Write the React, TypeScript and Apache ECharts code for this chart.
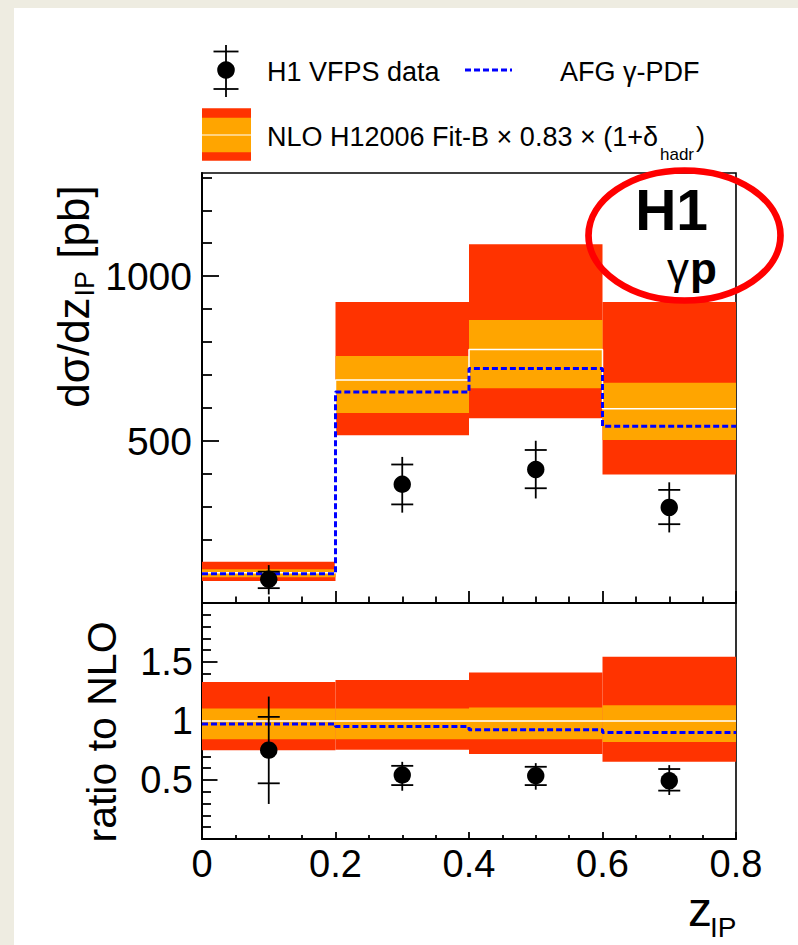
import React, { useEffect, useRef } from 'react';
import * as echarts from 'echarts';

// ---- data ----
const binEdges = [0, 0.2, 0.4, 0.6, 0.8];
const binCenters = [0.1, 0.3, 0.5, 0.7];

// upper panel: dσ/dz_IP [pb]
const dataXsec = [81, 369, 414, 299];
const dataStatUp = [104, 429, 473, 352];
const dataStatDown = [54, 308, 357, 248];
const dataTotUp = [124, 452, 501, 375];
const dataTotDown = [35, 283, 326, 223];
const nloCentral = [101, 685, 778, 598];
const nloScaleLow = [87, 585, 660, 503];
const nloScaleHigh = [111, 758, 867, 677];
const nloTotLow = [76, 518, 569, 399];
const nloTotHigh = [134, 922, 1097, 922];
const afgXsec = [98, 649, 720, 545];

// lower panel: ratio to NLO
const ratioData = [0.753, 0.542, 0.536, 0.494];
const ratioStatUp = [1.035, 0.62, 0.612, 0.593];
const ratioStatDown = [0.472, 0.457, 0.457, 0.41];
const ratioTotUp = [1.207, 0.654, 0.643, 0.626];
const ratioTotDown = [0.297, 0.409, 0.418, 0.373];
const ratioScaleLow = [0.846, 0.846, 0.846, 0.823];
const ratioScaleHigh = [1.106, 1.106, 1.114, 1.134];
const ratioTotLow = [0.753, 0.756, 0.72, 0.654];
const ratioTotHigh = [1.33, 1.347, 1.41, 1.545];
const ratioAfg = [0.975, 0.953, 0.925, 0.903];
const ratioCentral = [1, 1, 1, 1];

// axes
const upperMin = 9;
const upperMax = 1313;
const upperMajorTicks = [500, 1000];
const upperMinorTicks = [100, 200, 300, 400, 600, 700, 800, 900, 1100, 1200, 1300];
const ratioMin = 0;
const ratioMax = 2;
const ratioLabels = [0.5, 1, 1.5];

const RED = '#ff3300';
const ORANGE = '#ffa500';
const BLUE = '#0000ff';
const FONT = "'Liberation Sans', Arial, Helvetica, sans-serif";

function stepPoints(vals: number[]) {
  const pts: number[][] = [];
  vals.forEach((v, i) => {
    pts.push([binEdges[i], v]);
    pts.push([binEdges[i + 1], v]);
  });
  return pts;
}

function bandSeries(xi: number, yi: number, lo: number[], hi: number[], color: string, z: number) {
  return {
    type: 'custom',
    xAxisIndex: xi,
    yAxisIndex: yi,
    z,
    silent: true,
    renderItem: (_p: any, api: any) => {
      const p0 = api.coord([api.value(0), api.value(3)]);
      const p1 = api.coord([api.value(1), api.value(2)]);
      return {
        type: 'rect',
        shape: { x: p0[0], y: p0[1], width: p1[0] - p0[0], height: p1[1] - p0[1] },
        style: { fill: color },
      };
    },
    encode: { x: [0, 1], y: [2, 3] },
    data: lo.map((l, i) => [binEdges[i], binEdges[i + 1], l, hi[i]]),
  };
}

function stepSeries(xi: number, yi: number, vals: number[], color: string, width: number, dashed: boolean, z: number) {
  return {
    type: 'line',
    xAxisIndex: xi,
    yAxisIndex: yi,
    z,
    silent: true,
    symbol: 'none',
    showSymbol: false,
    lineStyle: { color, width, type: dashed ? [6, 3] : 'solid' },
    data: stepPoints(vals),
  };
}

function pointSeries(xi: number, yi: number, c: number[], su: number[], sd: number[], tu: number[], td: number[]) {
  return {
    type: 'custom',
    xAxisIndex: xi,
    yAxisIndex: yi,
    z: 10,
    silent: true,
    renderItem: (_p: any, api: any) => {
      const x = api.value(0);
      const pc = api.coord([x, api.value(1)]);
      const psu = api.coord([x, api.value(2)]);
      const psd = api.coord([x, api.value(3)]);
      const ptu = api.coord([x, api.value(4)]);
      const ptd = api.coord([x, api.value(5)]);
      const hw = 11;
      const st = { stroke: '#000', lineWidth: 1.8 };
      return {
        type: 'group',
        children: [
          { type: 'line', shape: { x1: pc[0], y1: ptu[1], x2: pc[0], y2: ptd[1] }, style: st },
          { type: 'line', shape: { x1: pc[0] - hw, y1: psu[1], x2: pc[0] + hw, y2: psu[1] }, style: st },
          { type: 'line', shape: { x1: pc[0] - hw, y1: psd[1], x2: pc[0] + hw, y2: psd[1] }, style: st },
          { type: 'circle', shape: { cx: pc[0], cy: pc[1], r: 8.7 }, style: { fill: '#000' } },
        ],
      };
    },
    encode: { x: 0, y: [1, 2, 3, 4, 5] },
    data: c.map((v, i) => [binCenters[i], v, su[i], sd[i], tu[i], td[i]]),
  };
}

function txt(text: string, x: number, y: number, size: number, opts: any = {}) {
  return {
    type: 'text',
    x,
    y,
    z: 100,
    rotation: opts.rotation || 0,
    style: {
      text,
      fontSize: size,
      fontFamily: FONT,
      fontWeight: opts.bold ? 'bold' : 'normal',
      fill: '#000',
      align: opts.align || 'left',
      textAlign: opts.align || 'left',
      verticalAlign: 'middle',
      textVerticalAlign: 'middle',
    },
  };
}

export default function App() {
  const ref = useRef<HTMLDivElement>(null);

  useEffect(() => {
    document.body.style.margin = '0';
    if (!ref.current) return;
    const chart = echarts.init(ref.current, undefined, { renderer: 'svg' });

    const cv = document.createElement('canvas').getContext('2d')!;
    const tw = (t: string, size: number, bold = false) => {
      cv.font = `${bold ? 'bold ' : ''}${size}px ${FONT}`;
      return cv.measureText(t).width;
    };

    // y title (upper)
    const yt1 = 'dσ/dz';
    const ytSub = 'IP';
    const yt3 = ' [pb]';
    const ytSize = 44;
    const ytSubSize = 27;
    const w1 = tw(yt1, ytSize);
    const w2 = tw(ytSub, ytSubSize);
    const w3 = tw(yt3, ytSize);
    const ytTotal = w1 + w2 + w3;

    // legend row 2
    const lg2 = 'NLO H12006 Fit-B × 0.83 × (1+δ';
    const lg2w = tw(lg2, 27);
    const hadrW = tw('hadr', 17);

    const pW = tw('p', 44, true);
    const zW = tw('z', 48);

    const lineSt = { stroke: '#000', lineWidth: 1.8 };

    const graphics: any[] = [
      // legend row 1: data marker
      {
        type: 'group',
        x: 226,
        y: 70,
        z: 100,
        children: [
          { type: 'line', shape: { x1: 0, y1: -25, x2: 0, y2: 27 }, style: lineSt },
          { type: 'line', shape: { x1: -12.5, y1: -18.5, x2: 12.5, y2: -18.5 }, style: lineSt },
          { type: 'line', shape: { x1: -12.5, y1: 19, x2: 12.5, y2: 19 }, style: lineSt },
          { type: 'circle', shape: { cx: 0, cy: 0, r: 8.8 }, style: { fill: '#000' } },
        ],
      },
      txt('H1 VFPS data', 267, 72, 27),
      {
        type: 'line',
        z: 100,
        shape: { x1: 465, y1: 70, x2: 512, y2: 70 },
        style: { stroke: BLUE, lineWidth: 3, lineDash: [6, 3] },
      },
      txt('AFG γ-PDF', 560, 72, 27),
      // legend row 2: band box
      { type: 'rect', z: 100, shape: { x: 202, y: 108.3, width: 49, height: 52.4 }, style: { fill: RED } },
      { type: 'rect', z: 101, shape: { x: 202, y: 117.7, width: 49, height: 34.5 }, style: { fill: ORANGE } },
      { type: 'line', z: 102, shape: { x1: 202, y1: 135, x2: 251, y2: 135 }, style: { stroke: '#fff', lineWidth: 1.2 } },
      txt(lg2, 267, 137, 27),
      txt('hadr', 267 + lg2w + 2, 154, 17),
      txt(')', 267 + lg2w + hadrW + 4, 137, 27),
      // H1 gamma p label
      txt('H1', 708, 210, 57, { bold: true, align: 'right' }),
      txt('p', 717, 268, 44, { bold: true, align: 'right' }),
      txt('γ', 717 - pW - 1, 268, 44, { align: 'right' }),
      // red ellipse
      {
        type: 'ellipse',
        z: 110,
        shape: { cx: 684.5, cy: 235.5, rx: 96, ry: 65 },
        style: { fill: 'none', stroke: '#ff0000', lineWidth: 6.7 },
      },
      // y title upper (rotated)
      {
        type: 'group',
        x: 73,
        y: 297 + ytTotal / 2,
        rotation: Math.PI / 2,
        z: 100,
        children: [
          txt(yt1, 0, 0, ytSize),
          txt(ytSub, w1 + 1, 12, ytSubSize),
          txt(yt3, w1 + w2 + 1, 0, ytSize),
        ],
      },
      // y title lower
      txt('ratio to NLO', 102, 732, 41, { align: 'center', rotation: Math.PI / 2 }),
      // x title
      txt('z', 688, 909, 48),
      txt('IP', 688 + zW - 2, 927, 28),
    ];

    const axisLine = { show: true, onZero: false, lineStyle: { color: '#000', width: 2 } };
    const tickStyle = { color: '#000', width: 1.8 };

    const option: any = {
      animation: false,
      grid: [
        { left: 202, top: 173, width: 534, height: 430, show: true, borderColor: '#000', borderWidth: 1.6, backgroundColor: 'transparent' },
        { left: 202, top: 603, width: 534, height: 236, show: true, borderColor: '#000', borderWidth: 1.6, backgroundColor: 'transparent' },
      ],
      xAxis: [
        {
          type: 'value', gridIndex: 0, min: 0, max: 0.8, interval: 0.2, position: 'bottom',
          axisLine, axisLabel: { show: false },
          axisTick: { show: true, inside: true, length: 12, lineStyle: tickStyle },
          minorTick: { show: true, splitNumber: 4, length: 6.5, lineStyle: tickStyle },
          splitLine: { show: false }, minorSplitLine: { show: false },
        },
        {
          type: 'value', gridIndex: 1, min: 0, max: 0.8, interval: 0.2, position: 'bottom',
          axisLine,
          axisLabel: { show: true, fontSize: 38, fontFamily: FONT, color: '#000', margin: 6, showMinLabel: true, showMaxLabel: true, formatter: (v: number) => String(v) },
          axisTick: { show: true, inside: true, length: 7, lineStyle: tickStyle },
          minorTick: { show: true, splitNumber: 4, length: 4, lineStyle: tickStyle },
          splitLine: { show: false }, minorSplitLine: { show: false },
        },
      ],
      yAxis: [
        {
          type: 'value', gridIndex: 0, min: upperMin, max: upperMax, position: 'left',
          axisLine,
          axisLabel: { show: true, customValues: upperMajorTicks, fontSize: 39, fontFamily: FONT, color: '#000', margin: 10, formatter: (v: number) => String(v) },
          axisTick: { show: true, inside: true, length: 17, customValues: upperMajorTicks, lineStyle: tickStyle },
          splitLine: { show: false },
        },
        {
          type: 'value', gridIndex: 0, min: upperMin, max: upperMax, position: 'left',
          axisLine: { show: false },
          axisLabel: { show: false },
          axisTick: { show: true, inside: true, length: 10, customValues: upperMinorTicks, lineStyle: tickStyle },
          splitLine: { show: false },
        },
        {
          type: 'value', gridIndex: 1, min: ratioMin, max: ratioMax, interval: 0.5, position: 'left',
          axisLine,
          axisLabel: { show: true, customValues: ratioLabels, fontSize: 38, fontFamily: FONT, color: '#000', margin: 9, formatter: (v: number) => String(v) },
          axisTick: { show: true, inside: true, length: 15.5, lineStyle: tickStyle },
          minorTick: { show: true, splitNumber: 5, length: 9, lineStyle: tickStyle },
          splitLine: { show: false }, minorSplitLine: { show: false },
        },
      ],
      series: [
        bandSeries(0, 0, nloTotLow, nloTotHigh, RED, 2),
        bandSeries(0, 0, nloScaleLow, nloScaleHigh, ORANGE, 3),
        stepSeries(0, 0, nloCentral, '#ffffff', 1.5, false, 4),
        stepSeries(0, 0, afgXsec, BLUE, 3, true, 5),
        pointSeries(0, 0, dataXsec, dataStatUp, dataStatDown, dataTotUp, dataTotDown),
        bandSeries(1, 2, ratioTotLow, ratioTotHigh, RED, 2),
        bandSeries(1, 2, ratioScaleLow, ratioScaleHigh, ORANGE, 3),
        stepSeries(1, 2, ratioCentral, '#ffffff', 1.5, false, 4),
        stepSeries(1, 2, ratioAfg, BLUE, 3, true, 5),
        pointSeries(1, 2, ratioData, ratioStatUp, ratioStatDown, ratioTotUp, ratioTotDown),
      ],
      graphic: graphics,
    };

    chart.setOption(option);
    return () => chart.dispose();
  }, []);

  return (
    <div style={{ position: 'fixed', left: 0, top: 0, width: 798, height: 945, background: '#EEECE1', overflow: 'hidden' }}>
      <div style={{ position: 'absolute', left: 14, top: 8, right: 0, bottom: 0, background: '#ffffff' }} />
      <div ref={ref} style={{ position: 'absolute', left: 0, top: 0, width: 798, height: 945 }} />
    </div>
  );
}
